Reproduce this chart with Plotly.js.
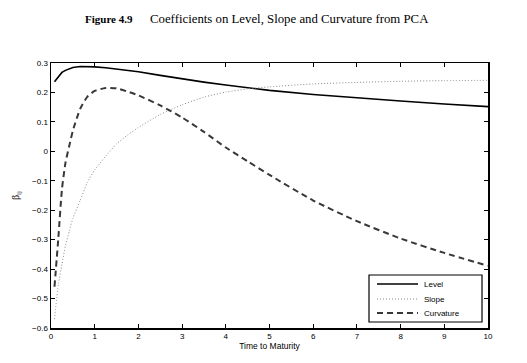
<!DOCTYPE html>
<html>
<head>
<meta charset="utf-8">
<script src="https://cdn.plot.ly/plotly-3.0.1.min.js"></script>
<style>html,body{margin:0;padding:0;background:#fff;}#chart{width:527px;height:363px;}</style>
</head>
<body>
<div id="chart"></div>
<script>
const maturity = [0.08, 0.17, 0.25, 0.33, 0.42, 0.5, 0.67, 0.83, 1, 1.25, 1.5, 1.75, 2, 2.5, 3, 3.5, 4, 4.5, 5, 6, 7, 8, 9, 10];
const level = [0.236, 0.253, 0.268, 0.275, 0.281, 0.285, 0.288, 0.288, 0.287, 0.284, 0.280, 0.275, 0.270, 0.258, 0.246, 0.235, 0.225, 0.216, 0.207, 0.193, 0.181, 0.171, 0.161, 0.152];
const slope = [-0.57, -0.45, -0.385, -0.32, -0.27, -0.228, -0.166, -0.106, -0.063, -0.017, 0.025, 0.055, 0.081, 0.125, 0.158, 0.184, 0.201, 0.212, 0.219, 0.229, 0.234, 0.238, 0.240, 0.241];
const curvature = [-0.46, -0.29, -0.13, -0.04, 0.02, 0.07, 0.145, 0.185, 0.205, 0.215, 0.214, 0.203, 0.19, 0.156, 0.115, 0.066, 0.013, -0.034, -0.08, -0.167, -0.237, -0.296, -0.345, -0.389];
const seriesNames = ["Level", "Slope", "Curvature"];
const xTicks = [0, 1, 2, 3, 4, 5, 6, 7, 8, 9, 10];
const yTicks = [-0.6, -0.5, -0.4, -0.3, -0.2, -0.1, 0, 0.1, 0.2, 0.3];

const styles = [
  {color: '#000', width: 1.6, dash: 'solid'},
  {color: '#8a8a8a', width: 1, dash: '1px,2px'},
  {color: '#383838', width: 2, dash: '6px,4px'}
];
const seriesValues = [level, slope, curvature];

const traces = seriesValues.map((vals, i) => ({
  x: maturity, y: vals, name: seriesNames[i], mode: 'lines',
  line: Object.assign({shape: i === 0 ? 'linear' : 'spline', smoothing: 0.6}, styles[i]),
  showlegend: false
}));

const axisCommon = {
  showgrid: false, zeroline: false, showline: true, linecolor: '#000', linewidth: 1.5,
  mirror: 'ticks', ticks: 'inside', ticklen: 4, tickcolor: '#000', tickwidth: 1,
  tickfont: {family: 'Liberation Sans, Arial, sans-serif', size: 8, color: '#000'}
};

// Legend box (drawn in paper coordinates)
const legendShapes = [
  {type: 'rect', xref: 'paper', yref: 'paper', x0: 0.7277, x1: 0.9863, y0: 0.0226, y1: 0.2,
   line: {color: '#000', width: 1.2}, fillcolor: '#fff', layer: 'above'}
];
const legendRowY = [0.166, 0.1094, 0.0566];
const legendAnn = [];
seriesNames.forEach((nm, i) => {
  legendShapes.push({type: 'line', xref: 'paper', yref: 'paper', x0: 0.746, x1: 0.8398, y0: legendRowY[i], y1: legendRowY[i],
    line: {color: styles[i].color, width: styles[i].width, dash: styles[i].dash}, layer: 'above'});
  legendAnn.push({text: nm, xref: 'paper', yref: 'paper', x: 0.849, y: legendRowY[i], xanchor: 'left', yanchor: 'middle',
    showarrow: false, font: {family: 'Liberation Sans, Arial, sans-serif', size: 8, color: '#000'}});
});

const layout = {
  width: 527, height: 363,
  margin: {l: 51, r: 39, t: 63, b: 35},
  paper_bgcolor: '#fff', plot_bgcolor: '#fff',
  showlegend: false,
  xaxis: Object.assign({}, axisCommon, {
    range: [0, 10], tickvals: xTicks, ticktext: xTicks.map(String),
    title: {text: 'Time to Maturity', font: {family: 'Liberation Sans, Arial, sans-serif', size: 8.5, color: '#000'}, standoff: 0}
  }),
  yaxis: Object.assign({}, axisCommon, {
    range: [-0.6, 0.3], tickvals: yTicks,
    ticktext: yTicks.map(v => v === 0 ? '0' : (v < 0 ? '\u2212' + Math.abs(v).toFixed(1) : v.toFixed(1))),
    title: {text: '\u03b2<sub>ij</sub>', font: {family: 'Liberation Serif, serif', size: 10, color: '#000'}, standoff: 10}
  }),
  shapes: legendShapes,
  annotations: [
    {text: '<b>Figure 4.9</b>', xref: 'paper', yref: 'paper', x: 0.0732, y: 1.166, xanchor: 'left', yanchor: 'middle', showarrow: false,
     font: {family: 'Liberation Serif, Times New Roman, serif', size: 11, color: '#000'}},
    {text: 'Coefficients on Level, Slope and Curvature from PCA', xref: 'paper', yref: 'paper', x: 0.222, y: 1.166, xanchor: 'left', yanchor: 'middle', showarrow: false,
     font: {family: 'Liberation Serif, Times New Roman, serif', size: 12.8, color: '#000'}}
  ].concat(legendAnn)
};

Plotly.newPlot('chart', traces, layout, {displayModeBar: false, staticPlot: true});
</script>
</body>
</html>
